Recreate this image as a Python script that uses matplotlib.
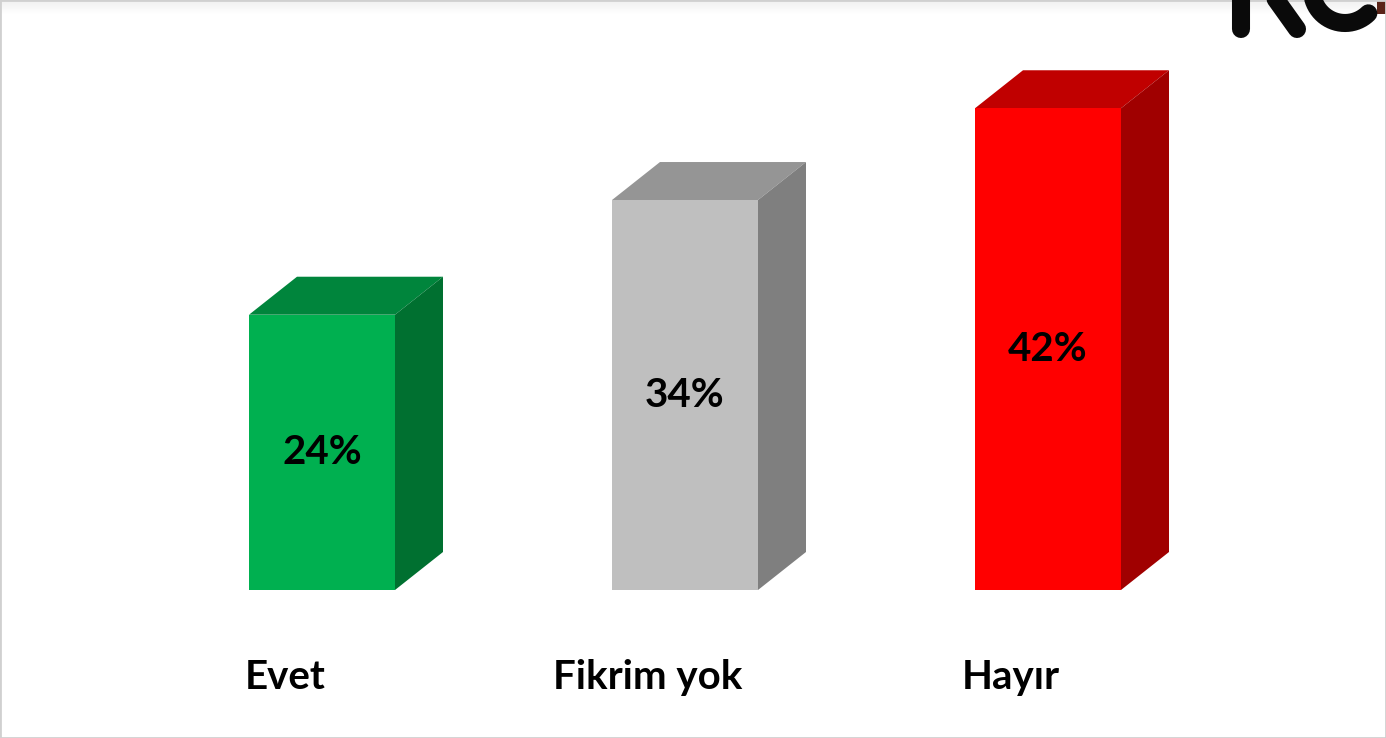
import matplotlib
matplotlib.use("Agg")
import matplotlib.pyplot as plt
from matplotlib.patches import Polygon, Rectangle
from matplotlib.lines import Line2D
import numpy as np

categories = ["Evet", "Fikrim yok", "Hayır"]
values = [24, 34, 42]
value_labels = ["24%", "34%", "42%"]
front_colors = ["#00B050", "#BFBFBF", "#FF0000"]
top_colors = ["#00853C", "#959595", "#C00000"]
side_colors = ["#007030", "#7F7F7F", "#A00000"]

W, H = 1386, 738
fig = plt.figure(figsize=(W / 100, H / 100), dpi=100)
fig.patch.set_facecolor("white")
ax = fig.add_axes([0, 0, 1, 1])
ax.set_axis_off()

spacing_px = 363.0
unit_px = 11.47
x0_px = 322.0
y0_px = 148.0
ax.set_xlim(-x0_px / spacing_px, (W - x0_px) / spacing_px)
ax.set_ylim(-y0_px / unit_px, (H - y0_px) / unit_px)

width = 146 / spacing_px
dx = 48 / spacing_px
dy = 38 / unit_px

x = np.arange(len(categories))
ax.bar(x, values, width=width, color=front_colors, zorder=3)

for xi, v, tc, sc in zip(x, values, top_colors, side_colors):
    l, r = xi - width / 2, xi + width / 2
    top = Polygon([(l, v), (r, v), (r + dx, v + dy), (l + dx, v + dy)],
                  closed=True, facecolor=tc, edgecolor="none", zorder=2)
    side = Polygon([(r, 0), (r + dx, dy), (r + dx, v + dy), (r, v)],
                   closed=True, facecolor=sc, edgecolor="none", zorder=2)
    ax.add_patch(top)
    ax.add_patch(side)

font = ["Lato", "DejaVu Sans"]
for xi, v, lab in zip(x, values, value_labels):
    ax.text(xi, v / 2, lab, ha="center", va="center", fontsize=29,
            fontweight="bold", family=font, color="black", zorder=4)

for xi, cat in zip(x, categories):
    ax.text(xi - 37 / spacing_px, -7.6, cat, ha="center", va="center",
            fontsize=29, fontweight="bold", family=font, color="black")

# partial logo strokes at top right (drawn as shapes, cut by the edge)
def px(xp, yp):
    return (xp / W, 1 - yp / H)

def stroke(pts, color="#0a0a0a", lw=13):
    xs, ys = zip(*[px(a, b) for a, b in pts])
    fig.lines.append(Line2D(xs, ys, transform=fig.transFigure, color=color,
                            linewidth=lw, solid_capstyle="round",
                            solid_joinstyle="round"))

stroke([(1241, -20), (1241, 29)])
stroke([(1262, -20), (1297, 29)])
theta = np.linspace(np.pi * 0.95, np.pi * 1.75, 30)
stroke([(1345 + 33 * np.cos(t), -10 - 33 * np.sin(t)) for t in theta])
fig.patches.append(Rectangle(px(1377, 14), 10 / W, 14 / H,
                             transform=fig.transFigure, facecolor="#5a2418",
                             edgecolor="none"))

# frame and top shading
fig.patches.append(Rectangle((0, 0), 1, 1, transform=fig.transFigure,
                             fill=False, edgecolor="#d0d0d0", linewidth=2))
for i in range(14):
    g = 0.94 + 0.06 * i / 14
    fig.patches.append(Rectangle((0, 1 - (i + 1) / H), 1, 1 / H,
                                 transform=fig.transFigure, facecolor=(g, g, g),
                                 edgecolor="none", zorder=-1))

fig.savefig("out.png", dpi=100, facecolor="white")
